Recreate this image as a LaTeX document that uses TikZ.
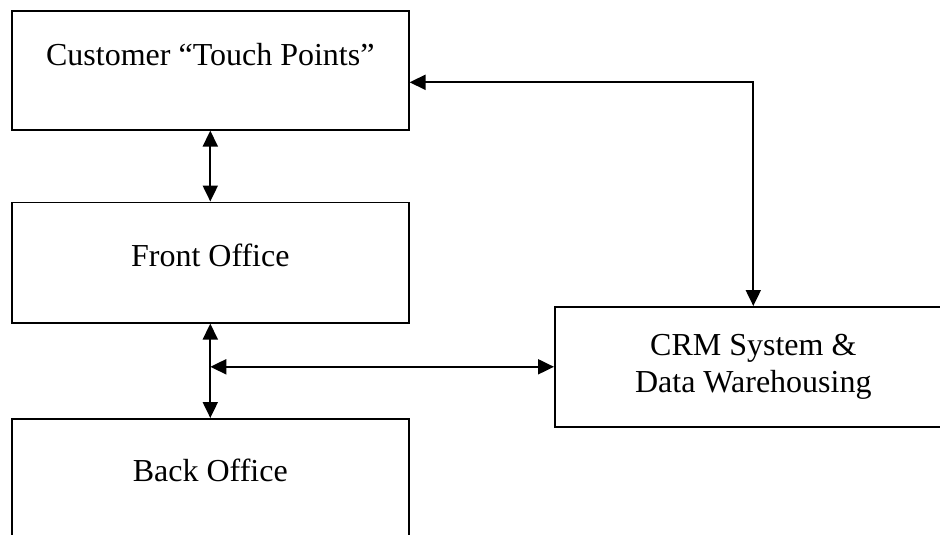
\documentclass[tikz,border=0pt]{standalone}
\usepackage{fontspec}
\setmainfont{Liberation Serif}
\usetikzlibrary{arrows.meta}

\tikzset{crmSketchBox/.style={
    font=\fontsize{32}{37}\selectfont,
    line width=1.6pt,
    draw=black,
    fill=white,
    align=center,
    minimum width=397pt,
    minimum height=119pt,
    inner sep=0pt,
  }
}
\tikzset{crmSketchArrow/.style={
    {Triangle[length=16pt,width=15pt]}-{Triangle[length=16pt,width=15pt]},
    line width=2pt,
    black,
  }
}
\newcommand{\crmSketchDefineSizeClip}{
  \useasboundingbox (0,0) rectangle (940,535);
  \clip (0,0) rectangle (940,535);
}
\newcommand{\crmSketchDrawNodes}{
  \node [anchor = north west, crmSketchBox, text height=22pt, text depth=31pt] (touch)
  at (11, 10) {Customer “Touch Points”};
  \node [anchor = north west, crmSketchBox, minimum height=120.5pt, text height=22pt, text depth=13.5pt] (front)
  at (11, 201.5) {Front Office};
  \node [anchor = north west, crmSketchBox, minimum height=125pt, text height=22pt, text depth=21pt] (back)
  at (11, 418) {Back Office};
  \node [anchor = north west, crmSketchBox, minimum height=120pt] (crm)
  at (554, 306) {CRM System \&\\Data Warehousing};
}
\newcommand{\crmSketchConnectNodes}{
  \coordinate (split) at (front.south |- crm.west);
  \draw[crmSketchArrow] (touch.south) to (front.north);
  \draw[crmSketchArrow] (front.south) to (back.north);
  \draw[crmSketchArrow] (split) to (crm.west);
  \draw[crmSketchArrow] ([yshift=-12pt]touch.east) -| (crm.north);
}

\begin{document}
\begin{tikzpicture}[x=1pt, y=-1pt]
  \crmSketchDefineSizeClip
  \crmSketchDrawNodes
  \crmSketchConnectNodes
\end{tikzpicture}
\end{document}
